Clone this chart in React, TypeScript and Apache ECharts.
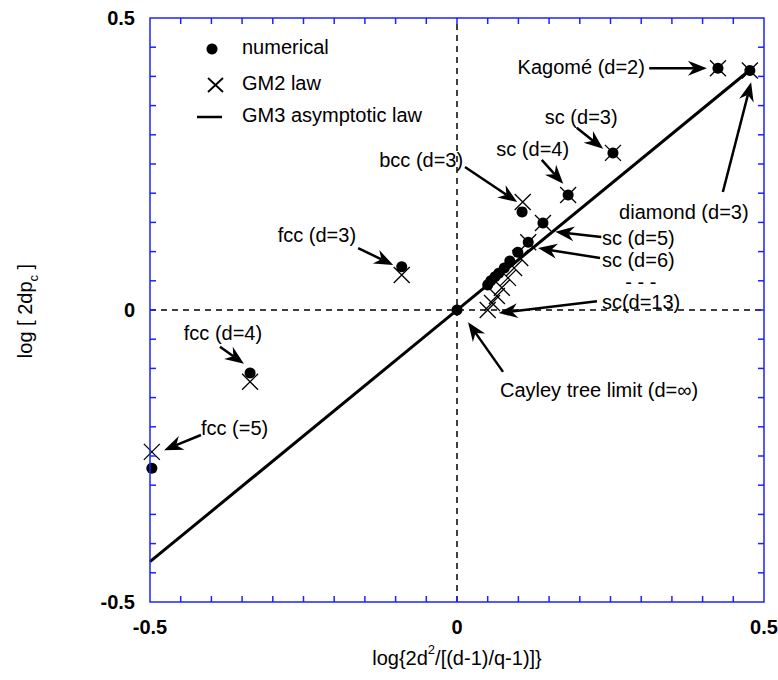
import React, { useEffect, useRef } from "react";
import * as echarts from "echarts";

// ---- data ----
const axisMin = -0.5;
const axisMax = 0.5;
const labeledTicks = [-0.5, 0, 0.5];
// minor tick positions (both axes)
const tickValues = [
  -0.45, -0.4, -0.35, -0.3, -0.25, -0.2, -0.15, -0.1, -0.05, 0, 0.05, 0.1, 0.15, 0.2, 0.25, 0.3, 0.35, 0.4, 0.45,
];

// numerical results (filled dots)
const numericalPts: [number, number][] = [
  [0.425, 0.414], // Kagome d=2
  [0.477, 0.41], // diamond d=3
  [0.254, 0.269], // sc d=3
  [0.181, 0.197], // sc d=4
  [0.106, 0.168], // bcc d=3
  [0.14, 0.149], // sc d=5
  [0.116, 0.116], // sc d=6
  [0.099, 0.099], // sc d=7
  [0.086, 0.084], // sc d=8
  [0.077, 0.072], // sc d=9
  [0.068, 0.063], // sc d=10
  [0.062, 0.057], // sc d=11
  [0.055, 0.05], // sc d=12
  [0.05, 0.043], // sc d=13
  [-0.09, 0.074], // fcc d=3
  [-0.337, -0.108], // fcc d=4
  [-0.497, -0.271], // fcc d=5
  [0.0, 0.0], // Cayley tree limit
];

// GM2 law (crosses)
const gm2Pts: [number, number][] = [
  [0.425, 0.414],
  [0.477, 0.41],
  [0.254, 0.269],
  [0.181, 0.197],
  [0.107, 0.185],
  [0.14, 0.149],
  [0.116, 0.116],
  [0.103, 0.089],
  [0.093, 0.072],
  [0.083, 0.055],
  [0.073, 0.038],
  [0.065, 0.024],
  [0.057, 0.012],
  [0.05, 0.0],
  [-0.09, 0.06],
  [-0.337, -0.123],
  [-0.497, -0.243],
];

// GM3 asymptotic law
const gm3Line: [number, number][] = [
  [-0.5, -0.431],
  [0.477, 0.411],
];

// annotations: label position & arrow (data coordinates)
const annotations = [
  { text: "Kagomé (d=2)", tx: 0.306, ty: 0.416, align: "right", a: [0.313, 0.414, 0.407, 0.414] },
  { text: "sc (d=3)", tx: 0.143, ty: 0.33, align: "left", a: [0.195, 0.312, 0.238, 0.276] },
  { text: "sc (d=4)", tx: 0.064, ty: 0.276, align: "left", a: [0.138, 0.257, 0.173, 0.216] },
  { text: "bcc (d=3)", tx: 0.01, ty: 0.257, align: "right", a: [0.013, 0.245, 0.098, 0.185] },
  { text: "fcc (d=3)", tx: -0.292, ty: 0.128, align: "left", a: [-0.161, 0.106, -0.104, 0.077] },
  { text: "fcc (d=4)", tx: -0.445, ty: -0.039, align: "left", a: [-0.386, -0.063, -0.347, -0.092] },
  { text: "fcc (=5)", tx: -0.417, ty: -0.202, align: "left", a: [-0.417, -0.214, -0.477, -0.24] },
  { text: "diamond (d=3)", tx: 0.264, ty: 0.168, align: "left", a: [0.433, 0.202, 0.479, 0.39] },
  { text: "sc (d=5)", tx: 0.236, ty: 0.123, align: "left", a: [0.235, 0.125, 0.16, 0.134] },
  { text: "sc (d=6)", tx: 0.236, ty: 0.086, align: "left", a: [0.233, 0.089, 0.132, 0.106] },
  { text: "- - -", tx: 0.274, ty: 0.048, align: "left", a: null },
  { text: "sc(d=13)", tx: 0.236, ty: 0.014, align: "left", a: [0.228, 0.015, 0.068, -0.005] },
  { text: "Cayley tree limit (d=∞)", tx: 0.07, ty: -0.137, align: "left", a: [0.075, -0.106, 0.018, -0.021] },
];

const FONT = '"Liberation Sans", Arial, Helvetica, sans-serif';
const BLUE = "#2020ff";

function tickLabel(v: number): string {
  const r = Math.round(v * 100);
  for (const t of labeledTicks) {
    if (Math.round(t * 100) === r) return t === 0 ? "0" : String(t);
  }
  return "";
}

function makeAxis(pos: string) {
  return {
    type: "value",
    min: axisMin,
    max: axisMax,
    interval: 0.5,
    position: pos,
    axisLine: { show: false },
    axisTick: { show: false },
    splitLine: { show: false },
    axisLabel: {
      show: true,
      formatter: tickLabel,
      color: "#000",
      fontFamily: FONT,
      fontSize: 20,
      fontWeight: "bold",
      margin: 15,
      showMinLabel: true,
      showMaxLabel: true,
    },
  };
}

export default function App() {
  const ref = useRef<HTMLDivElement>(null);
  useEffect(() => {
    if (!ref.current) return;
    const chart = echarts.init(ref.current, undefined, { renderer: "svg" });
    const arrowData = annotations.filter((a) => a.a).map((a) => a.a as number[]);
    const textData = annotations.map((a, i) => [a.tx, a.ty, i]);
    const tickData = tickValues.map((v) => [v, v]);

    const option: any = {
      animation: false,
      backgroundColor: "#fff",
      grid: { left: 150, right: 14, top: 18, bottom: 78, outerBoundsMode: "none" },
      xAxis: makeAxis("bottom"),
      yAxis: makeAxis("left"),
      graphic: [
        // legend
        { type: "circle", shape: { cx: 212, cy: 49, r: 5.5 }, style: { fill: "#000" } },
        { type: "text", x: 242, y: 47, style: { text: "numerical", font: `20px ${FONT}`, fill: "#000", verticalAlign: "middle" } },
        { type: "line", shape: { x1: 208, y1: 78, x2: 223, y2: 92 }, style: { stroke: "#000", lineWidth: 1.8 } },
        { type: "line", shape: { x1: 223, y1: 78, x2: 208, y2: 92 }, style: { stroke: "#000", lineWidth: 1.8 } },
        { type: "text", x: 242, y: 83, style: { text: "GM2 law", font: `20px ${FONT}`, fill: "#000", verticalAlign: "middle" } },
        { type: "line", shape: { x1: 197, y1: 117, x2: 222, y2: 117 }, style: { stroke: "#000", lineWidth: 2.5 } },
        { type: "text", x: 242, y: 115, style: { text: "GM3 asymptotic law", font: `20px ${FONT}`, fill: "#000", verticalAlign: "middle" } },
        // axis titles
        {
          type: "text",
          x: 457,
          y: 658,
          style: {
            text: "log{2d{sup|2}/[(d-1)/q-1)]}",
            font: `20px ${FONT}`,
            fill: "#000",
            align: "center",
            verticalAlign: "middle",
            lineHeight: 30,
            rich: {
              sup: { fontSize: 13, fontFamily: FONT, verticalAlign: "top", lineHeight: 14 },
            },
          },
        },
        {
          type: "text",
          x: 25,
          y: 311,
          rotation: Math.PI / 2,
          style: {
            text: "log [ 2dp{sub|c} ]",
            font: `20px ${FONT}`,
            fill: "#000",
            align: "center",
            verticalAlign: "middle",
            lineHeight: 30,
            rich: {
              sub: { fontSize: 13, fontFamily: FONT, verticalAlign: "bottom", lineHeight: 14 },
            },
          },
        },
      ],
      series: [
        // frame + inward ticks on all four sides
        {
          type: "custom",
          data: tickData,
          clip: false,
          z: 5,
          renderItem: (params: any, api: any) => {
            const v = api.value(0);
            const b = api.coord([v, axisMin]);
            const t = api.coord([v, axisMax]);
            const l = api.coord([axisMin, v]);
            const r = api.coord([axisMax, v]);
            const len = 6;
            const st = { stroke: BLUE, lineWidth: 1.5 };
            const children: any[] = [
              { type: "line", shape: { x1: b[0], y1: b[1], x2: b[0], y2: b[1] - len }, style: st },
              { type: "line", shape: { x1: t[0], y1: t[1], x2: t[0], y2: t[1] + len }, style: st },
              { type: "line", shape: { x1: l[0], y1: l[1], x2: l[0] + len, y2: l[1] }, style: st },
              { type: "line", shape: { x1: r[0], y1: r[1], x2: r[0] - len, y2: r[1] }, style: st },
            ];
            if (params.dataIndex === 0) {
              const p0 = api.coord([axisMin, axisMax]);
              const p1 = api.coord([axisMax, axisMin]);
              children.push({
                type: "rect",
                shape: { x: p0[0], y: p0[1], width: p1[0] - p0[0], height: p1[1] - p0[1] },
                style: { fill: "none", stroke: BLUE, lineWidth: 1.5 },
              });
            }
            return { type: "group", children };
          },
        },
        {
          type: "line",
          data: [
            [0, axisMin],
            [0, axisMax],
          ],
          symbol: "none",
          lineStyle: { color: "#000", width: 1.5, type: [6, 5] },
          silent: true,
        },
        {
          type: "line",
          data: [
            [axisMin, 0],
            [axisMax, 0],
          ],
          symbol: "none",
          lineStyle: { color: "#000", width: 1.5, type: [6, 5] },
          silent: true,
        },
        {
          type: "line",
          data: gm3Line,
          symbol: "none",
          lineStyle: { color: "#000", width: 3 },
        },
        {
          type: "scatter",
          data: numericalPts,
          symbol: "circle",
          symbolSize: 11,
          itemStyle: { color: "#000", opacity: 1 },
        },
        {
          type: "scatter",
          data: gm2Pts,
          symbol: "path://M0 0L16 16M16 0L0 16",
          symbolSize: 16,
          itemStyle: { color: "none", borderColor: "#000", borderWidth: 1.3, opacity: 1 },
        },
        {
          type: "custom",
          data: arrowData,
          clip: false,
          renderItem: (params: any, api: any) => {
            const p1 = api.coord([api.value(0), api.value(1)]);
            const p2 = api.coord([api.value(2), api.value(3)]);
            const dx = p2[0] - p1[0];
            const dy = p2[1] - p1[1];
            const L = Math.hypot(dx, dy) || 1;
            const ux = dx / L;
            const uy = dy / L;
            const nx = -uy;
            const ny = ux;
            const hl = 19;
            const hw = 7.5;
            const notch = 13;
            const base = [p2[0] - ux * notch, p2[1] - uy * notch];
            const pts = [
              [p2[0], p2[1]],
              [p2[0] - ux * hl + nx * hw, p2[1] - uy * hl + ny * hw],
              base,
              [p2[0] - ux * hl - nx * hw, p2[1] - uy * hl - ny * hw],
            ];
            return {
              type: "group",
              children: [
                {
                  type: "line",
                  shape: { x1: p1[0], y1: p1[1], x2: base[0], y2: base[1] },
                  style: { stroke: "#000", lineWidth: 2.5 },
                },
                { type: "polygon", shape: { points: pts }, style: { fill: "#000" } },
              ],
            };
          },
        },
        {
          type: "custom",
          data: textData,
          clip: false,
          renderItem: (params: any, api: any) => {
            const p = api.coord([api.value(0), api.value(1)]);
            const a = annotations[api.value(2)];
            return {
              type: "text",
              x: p[0],
              y: p[1],
              style: {
                text: a.text,
                font: `20px ${FONT}`,
                fill: "#000",
                align: a.align,
                verticalAlign: "middle",
              },
            };
          },
        },
      ],
    };
    chart.setOption(option);
    return () => chart.dispose();
  }, []);
  return <div ref={ref} style={{ position: "fixed", left: 0, top: 0, width: 778, height: 680 }} />;
}
